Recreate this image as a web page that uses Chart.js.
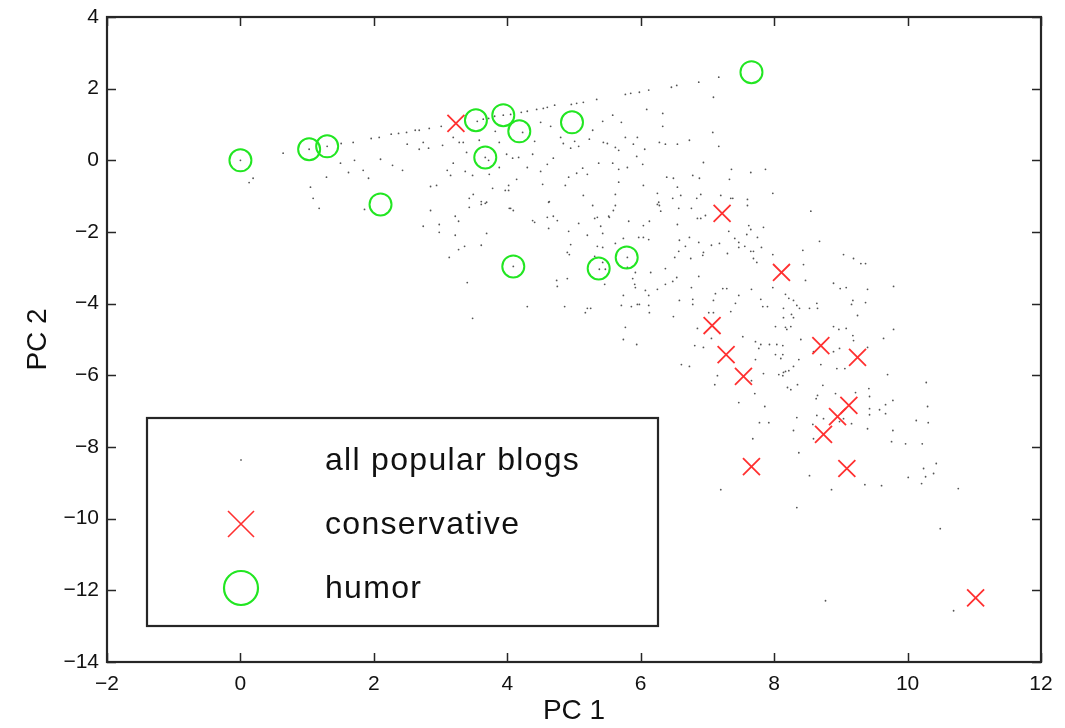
<!DOCTYPE html>
<html>
<head>
<meta charset="utf-8">
<script src="https://cdn.jsdelivr.net/npm/chart.js@4/dist/chart.umd.min.js"></script>
<style>
	html, body { margin: 0; padding: 0; background: #fff; }
	#wrap { width: 1065px; height: 728px; }
</style>
</head>
<body>
<div id="wrap"><canvas id="chart" width="1065" height="728"></canvas></div>
<script>
// Scores (PC 1, PC 2)
const blogPoints = [
	[0, 0], [0.19, -0.5], [0.13, -0.62], [0.64, 0.2], [1.03, 0.31], [1.3, 0.39], [1.51, 0.47], [1.69, 0.5],
	[1.5, -0.08], [1.71, 0], [1.29, -0.47], [1.62, -0.34], [1.84, -0.28], [1.92, -0.5], [1.05, -0.75],
	[1.09, -1.06], [1.18, -1.34], [1.96, 0.61], [2.08, 0.64], [2.26, 0.73], [2.37, 0.75], [2.49, 0.78],
	[2.62, 0.84], [2.68, 0.84], [2.83, 0.89], [3.01, 0.95], [2.1, 0.03], [2.28, -0.14], [2.43, -0.28],
	[2.5, 0.45], [2.74, 0.5], [2.68, 0.31], [2.82, 0.34], [3.03, 0.42], [2.85, -0.73], [2.94, -0.7],
	[2.85, -1.4], [3.19, 0.64], [3.28, 0.5], [3.34, 0.5], [3.19, -0.08], [3.1, -0.28], [3.15, -0.42],
	[3.39, 0.22], [3.37, -0.31], [3.48, -0.42], [3.43, -1.06], [3.43, -1.31], [3.49, -0.95], [3.61, -1.15],
	[3.67, -1.2], [3.78, -0.78], [3.58, 0.56], [3.73, -0.39], [3.88, 0.5], [3.88, -0.2], [3.99, 0.17],
	[4.02, -0.84], [3.55, 1.09], [3.64, 1.15], [3.72, 1.17], [3.81, 1.23], [3.67, 0.08], [3.72, 0],
	[3.22, -1.56], [3.82, 0.81], [1.86, -1.37],
	[3.94, 1.26], [4.05, 1.28], [4.21, 1.34], [4.3, 1.37], [4.44, 1.42], [4.54, 1.45], [4.6, 1.48],
	[4.71, 1.54], [4.96, 1.56], [5.04, 1.59], [5.14, 1.62], [5.34, 1.7], [5.77, 1.84], [5.85, 1.87],
	[5.98, 1.9], [6.12, 1.96], [6.46, 2.04], [6.54, 2.09], [6.87, 2.18], [7.17, 2.32], [7.09, 1.76],
	[6.33, 1.31], [6.09, 1.42], [6.33, 0.95], [5.71, 1.06], [5.58, 1.26], [5.43, 1.09], [5.28, 0.84],
	[4.5, 1.06], [4.65, 0.95], [4.41, 0.53], [4.23, 0.78], [4.8, 0.64], [4.84, 0.47], [5.01, 0.53],
	[5.23, 0.59], [4.95, 0.34], [5.07, 0.39], [5.44, 0.5], [5.5, 0.47], [5.62, 0.36], [5.67, 0.28],
	[5.77, 0.64], [5.89, 0.45], [5.95, 0.64], [6.06, 0.31], [6.28, 0.5], [6.37, 0.45], [6.55, 0.45],
	[6.73, 0.56], [7.08, 0.78], [7.17, 0.39], [5.94, 0.11], [6.03, -0.11], [5.8, -0.2], [5.67, -0.25],
	[5.58, -0.08], [5.37, -0.08], [5.13, -0.22], [5.2, -0.39], [5.04, -0.36], [4.92, -0.47], [4.69, 0.06],
	[4.6, -0.11], [4.38, 0.17], [4.17, 0.08], [4.08, 0.06], [4.3, -0.2], [4.5, -0.31], [4.14, -0.53],
	[3.97, -0.84], [4.53, -0.67], [4.87, -0.7], [5.14, -0.98], [5.62, -0.95], [5.67, -0.61], [6.04, -0.7],
	[6.39, -0.47], [6.49, -0.5], [6.78, -0.42], [6.88, -0.5], [6.94, -0.06], [7.36, -0.25], [7.33, -0.53],
	[7.65, -0.34], [7.87, -0.25], [7.98, -0.92], [7.6, -1.09], [7.35, -1.06], [7.2, -0.98], [6.9, -0.95],
	[6.84, -1.06], [6.6, -0.98], [6.48, -1.06], [6.55, -0.75], [6.25, -0.92], [6.28, -1.26], [6.27, -1.17],
	[6.76, -1.34], [6.57, -1.34], [5.28, -1.26], [5.62, -1.26], [4.63, -1.15], [4.05, -1.34], [4.69, -1.56],
	[5.35, -1.59], [5.52, -1.56], [6.9, -1.62], [6.97, -1.54], [7.6, -1.26], [7.38, -1.06],
	[2.74, -1.84], [2.98, -1.79], [2.98, -2.01], [3.27, -1.7], [3.22, -2.09], [3.36, -2.4], [3.27, -2.49],
	[3.61, -2.37], [3.13, -2.71], [3.4, -3.41], [3.48, -4.41], [3.69, -2.04], [3.61, -1.23], [3.69, -1.17],
	[4.02, -0.7], [4.03, -1.34], [4.09, -1.4], [4.09, -2.96], [4.38, -1.68], [4.41, -1.73], [4.62, -1.17],
	[4.6, -1.59], [4.75, -1.68], [4.62, -1.9], [4.92, -1.98], [4.95, -2.35], [4.9, -2.57], [4.93, -2.63],
	[4.74, -3.35], [4.75, -3.52], [4.9, -3.3], [4.3, -4.08], [4.86, -4.08], [5.2, -4.13], [5.25, -4.13],
	[5.17, -4.25], [5.07, -1.76], [5.2, -2.09], [5.31, -1.62], [5.4, -1.84], [5.43, -2.04], [5.53, -1.59],
	[5.35, -2.4], [5.43, -2.43], [5.31, -2.68], [5.43, -2.85], [5.38, -3.04], [5.47, -3.04], [5.46, -3.46],
	[5.59, -1.4], [5.62, -2.32], [5.74, -2.18], [5.8, -2.71], [5.82, -1.7], [5.8, -2.99], [5.92, -3.13],
	[5.88, -3.3], [5.91, -3.46], [5.92, -3.55], [5.97, -2.15], [6.04, -2.15], [6.04, -1.82], [6.13, -1.7],
	[6.12, -2.21], [6.07, -3.63], [6.25, -3.6], [6.12, -3.77], [5.74, -3.77], [5.71, -4.05], [5.86, -4.08],
	[5.95, -4.02], [5.98, -4.02], [6.12, -4.05], [6.13, -4.25], [5.77, -4.66], [5.74, -5], [6.25, -1.23],
	[5.94, -5.14],
	[6.3, -1.42], [6.85, -1.62], [6.55, -1.79], [7.62, -1.82], [7.65, -1.93], [7.84, -1.87], [7.32, -1.98],
	[7.59, -2.07], [7.75, -2.15], [6.73, -2.15], [6.58, -2.23], [6.87, -2.29], [6.67, -2.4], [7.06, -2.37],
	[7.18, -2.32], [7.41, -2.18], [7.47, -2.29], [7.56, -2.4], [7.47, -2.43], [7.65, -2.54], [7.69, -2.54],
	[7.81, -2.43], [7.3, -2.6], [6.94, -2.57], [6.57, -2.54], [6.75, -2.74], [6.51, -2.71], [6.93, -2.65],
	[7.69, -2.74], [7.74, -2.85], [7.98, -2.63], [8.43, -2.51], [8.68, -2.26], [8.55, -1.42], [9.04, -2.63],
	[9.19, -2.74], [9.3, -2.88], [9.37, -2.88], [8.44, -2.91], [6.37, -3.02], [6.15, -3.13], [6.54, -3.27],
	[6.87, -3.24], [6.48, -3.38], [6.37, -3.46], [6.76, -3.55], [7.12, -3.72], [7.23, -3.58], [7.29, -3.58],
	[7.47, -3.77], [7.42, -3.99], [7.35, -4.22], [7.09, -3.91], [6.78, -3.88], [6.78, -4.02], [6.58, -3.91],
	[6.49, -4.36], [7.02, -4.25], [7.09, -4.25], [7.66, -3.6], [7.8, -3.88], [7.83, -4.08], [7.9, -4.08],
	[7.98, -3.55], [8.17, -3.74], [8.22, -3.85], [8.29, -3.91], [8.34, -4.05], [8.38, -4.13], [8.14, -4.13],
	[8.14, -4.39], [8.26, -4.3], [8.29, -4.39], [8.17, -4.66], [8.19, -4.72], [8.02, -4.64], [8.25, -4.64],
	[8.53, -4.13], [8.65, -4.13], [8.64, -3.99], [8.47, -3.35], [8.89, -3.43], [8.99, -3.58], [9.08, -3.55],
	[9.4, -3.6], [9.18, -3.91], [9.16, -4.02], [9.37, -3.97], [9.25, -4.33], [8.89, -4.64], [8.97, -4.72],
	[9.08, -4.69], [9.18, -4.89], [9.19, -5.03], [8.98, -5.25], [9.4, -5.22], [9.64, -4.97], [9.79, -4.72],
	[9.79, -3.52], [8.4, -5], [7.72, -5.06], [7.8, -5.14], [7.93, -5.14], [8.04, -5.14], [8.13, -5.17],
	[7.77, -5.25], [8.02, -5.42], [7.72, -5.56], [6.81, -5.17], [6.94, -5.22], [7.06, -4.97], [6.85, -4.69],
	[7.53, -4.92],
	[6.61, -5.7], [6.73, -5.75], [7.15, -6.01], [7.11, -6.26], [7.47, -6.76], [7.71, -6.51], [7.66, -6.15],
	[7.84, -5.95], [7.86, -6.87], [7.78, -7.32], [7.92, -7.32], [7.68, -7.77], [7.2, -9.19], [8.1, -5.53],
	[8.13, -5.42], [8.37, -5.56], [8.29, -5.75], [8.07, -5.98], [8.14, -5.92], [8.17, -5.89], [8.22, -5.87],
	[8.13, -6.01], [8.35, -6.26], [8.2, -6.34], [8.25, -6.4], [8.34, -7.18], [8.29, -7.54], [8.37, -8.16],
	[8.53, -8.8], [8.86, -9.19], [8.58, -7.37], [8.63, -6.65], [8.65, -6.56], [8.73, -6.28], [8.7, -5.7],
	[8.59, -5.34], [8.89, -5.34], [8.94, -5.81], [9.06, -5.81], [8.92, -6.51], [9.22, -6.48], [8.64, -7.12],
	[8.74, -7.21], [8.98, -7.29], [9.04, -7.21], [9.16, -7.35], [8.59, -7.77], [9.42, -6.37], [9.43, -6.59],
	[9.43, -6.93], [9.43, -7.1], [9.58, -6.96], [9.67, -6.82], [9.67, -7.07], [9.78, -6.7], [9.7, -5.98],
	[9.4, -7.49], [9.78, -7.54], [9.76, -7.85], [9.97, -7.91], [10.22, -7.91], [10.13, -7.26], [10.31, -7.32],
	[10.3, -6.87], [10.28, -6.2], [10.43, -8.46], [10.24, -8.6], [10.39, -8.74], [10.27, -8.83], [10.01, -8.85],
	[10.21, -9.02], [9.61, -9.08], [9.36, -9.05], [10.76, -9.16],
	[8.34, -9.69], [10.49, -10.28], [8.77, -12.29], [10.69, -12.57]
];

const conservativePoints = [
	[3.23, 1.03], [7.22, -1.48], [8.11, -3.13], [7.07, -4.61], [7.28, -5.42], [8.7, -5.17], [9.25, -5.5],
	[7.54, -6.03], [9.12, -6.84], [8.95, -7.15], [8.74, -7.65], [7.66, -8.55], [9.09, -8.6], [11.02, -12.21]
];

const humorPoints = [
	[0, 0], [1.03, 0.31], [1.3, 0.39], [2.1, -1.23], [3.53, 1.12], [3.94, 1.26], [4.18, 0.81],
	[3.67, 0.08], [4.97, 1.06], [7.66, 2.46], [4.09, -2.96], [5.37, -3.02], [5.79, -2.71]
];

const seriesLabels = ['all popular blogs', 'conservative', 'humor'];
const xRange = [-2, 12];
const yRange = [-14, 4];

const RED = '#ff3030';
const GREEN = '#22e622';
const AXIS = '#262626';
const FONT = '"Liberation Sans", Arial, Helvetica, sans-serif';

const toXY = list => list.map(p => ({ x: p[0], y: p[1] }));
const minusTick = v => (v < 0 ? '\u2212' + Math.abs(v) : String(v));

// box round the plot, with inward ticks on all four sides, and the boxed legend
const frame = {
	id: 'frame',
	afterDatasetsDraw(chart) {
		const { ctx, chartArea: a, scales: { x, y } } = chart;
		ctx.save();
		ctx.strokeStyle = AXIS;
		ctx.lineWidth = 1.5;
		const tick = 9;
		ctx.beginPath();
		x.ticks.forEach(t => {
			const px = Math.round(x.getPixelForValue(t.value)) + 0.5;
			ctx.moveTo(px, a.bottom); ctx.lineTo(px, a.bottom - tick);
			ctx.moveTo(px, a.top); ctx.lineTo(px, a.top + tick);
		});
		y.ticks.forEach(t => {
			const py = Math.round(y.getPixelForValue(t.value)) + 0.5;
			ctx.moveTo(a.left, py); ctx.lineTo(a.left + tick, py);
			ctx.moveTo(a.right, py); ctx.lineTo(a.right - tick, py);
		});
		ctx.stroke();
		ctx.lineWidth = 2.2;
		ctx.strokeRect(a.left, a.top, a.right - a.left, a.bottom - a.top);

		// legend
		const lx = a.left + 40, ly = a.bottom - 244, lw = 511, lh = 208;
		ctx.fillStyle = '#fff';
		ctx.fillRect(lx, ly, lw, lh);
		ctx.lineWidth = 2.2;
		ctx.strokeStyle = AXIS;
		ctx.strokeRect(lx, ly, lw, lh);

		const mx = lx + 94, tx = lx + 178;
		const rows = [ly + 42, ly + 106, ly + 170];

		ctx.fillStyle = '#999';
		ctx.fillRect(mx - 1, rows[0] - 1, 2, 2);

		ctx.strokeStyle = RED;
		ctx.lineWidth = 1.6;
		ctx.beginPath();
		ctx.moveTo(mx - 13, rows[1] - 13); ctx.lineTo(mx + 13, rows[1] + 13);
		ctx.moveTo(mx + 13, rows[1] - 13); ctx.lineTo(mx - 13, rows[1] + 13);
		ctx.stroke();

		ctx.strokeStyle = GREEN;
		ctx.lineWidth = 2.2;
		ctx.beginPath();
		ctx.arc(mx, rows[2], 17, 0, Math.PI * 2);
		ctx.stroke();

		ctx.fillStyle = '#111';
		ctx.font = '32px ' + FONT;
		ctx.letterSpacing = '1.3px';
		ctx.textAlign = 'left';
		ctx.textBaseline = 'middle';
		seriesLabels.forEach((label, i) => ctx.fillText(label, tx, rows[i] + 1));
		ctx.restore();
	}
};

const ctx = document.getElementById('chart').getContext('2d');

new Chart(ctx, {
	type: 'scatter',
	data: {
		datasets: [
			{
				label: seriesLabels[0],
				data: toXY(blogPoints),
				pointRadius: 0.9,
				pointBorderWidth: 0,
				backgroundColor: '#555',
				borderColor: '#555',
				order: 3
			},
			{
				label: seriesLabels[1],
				data: toXY(conservativePoints),
				pointStyle: 'crossRot',
				pointRadius: 12,
				pointBorderWidth: 1.8,
				borderColor: RED,
				backgroundColor: RED,
				order: 2
			},
			{
				label: seriesLabels[2],
				data: toXY(humorPoints),
				pointStyle: 'circle',
				pointRadius: 11,
				pointBorderWidth: 2,
				borderColor: GREEN,
				backgroundColor: 'rgba(0,0,0,0)',
				order: 1
			}
		]
	},
	options: {
		responsive: false,
		animation: false,
		events: [],
		layout: { padding: { left: 0, top: 17, right: 24, bottom: 0 } },
		plugins: {
			legend: { display: false },
			tooltip: { enabled: false }
		},
		scales: {
			x: {
				type: 'linear',
				min: xRange[0],
				max: xRange[1],
				grid: { display: false, drawTicks: false },
				border: { display: false },
				ticks: {
					stepSize: 2,
					padding: 10,
					color: '#111',
					font: { family: FONT, size: 21 },
					callback: minusTick
				},
				title: {
					display: true,
					text: 'PC 1',
					color: '#111',
					font: { family: FONT, size: 28 },
					padding: { top: 0, bottom: 0 }
				},
				afterFit: scale => { scale.height = 66; }
			},
			y: {
				type: 'linear',
				min: yRange[0],
				max: yRange[1],
				grid: { display: false, drawTicks: false },
				border: { display: false },
				ticks: {
					stepSize: 2,
					padding: 8,
					color: '#111',
					font: { family: FONT, size: 21, lineHeight: 0.8 },
					callback: minusTick
				},
				title: {
					display: true,
					text: 'PC 2',
					color: '#111',
					font: { family: FONT, size: 28 },
					padding: { top: 21, bottom: 0 }
				},
				afterFit: scale => { scale.width = 107; }
			}
		}
	},
	plugins: [frame]
});
</script>
</body>
</html>
